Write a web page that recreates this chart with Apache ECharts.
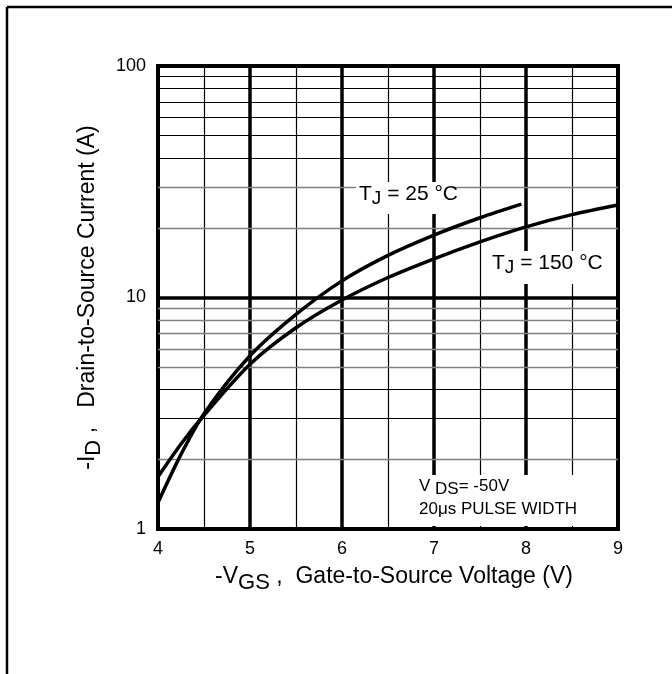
<!DOCTYPE html>
<html>
<head>
<meta charset="utf-8">
<script src="https://cdn.jsdelivr.net/npm/echarts@6/dist/echarts.min.js"></script>
<style>
  html, body { margin: 0; padding: 0; background: #fff; }
  #chart { width: 672px; height: 674px; }
</style>
</head>
<body>
<div id="chart"></div>
<script>
// -VGS (V) and -ID (A)
const vgs25 = [4, 4.25, 4.5, 5, 5.5, 6, 6.5, 7, 7.5, 7.95]
const id25 = [1.3, 2.1, 3.15, 5.6, 8.45, 11.8, 15.2, 18.6, 22.1, 25.3]
const vgs150 = [4, 4.25, 4.5, 5, 5.5, 6, 6.5, 7, 7.5, 8, 8.5, 9]
const id150 = [1.68, 2.33, 3.1, 5.15, 7.4, 9.75, 12.2, 14.7, 17.4, 20.2, 22.8, 25.1]

// minor log grid lines; some print gray in the original
const minorGridBlack = [3, 4, 40, 50, 60, 70, 80, 90]
const minorGridGray = [2, 5, 6, 7, 8, 9, 20, 30]

const font = 'Liberation Sans, Arial, sans-serif'

const chart = echarts.init(document.getElementById('chart'))

const toPairs = (xs, ys) => xs.map((x, i) => [x, ys[i]])

const gridLines = [
  ...minorGridBlack.map(v => ({ yAxis: v, lineStyle: { color: '#000', width: 1.2, type: 'solid' } })),
  ...minorGridGray.map(v => ({ yAxis: v, lineStyle: { color: '#808080', width: 1.4, type: 'solid' } }))
]

const titleRich = {
  n: { fontSize: 23, color: '#000', fontFamily: font, lineHeight: 34 },
  s: { fontSize: 22, color: '#000', fontFamily: font, lineHeight: 14, verticalAlign: 'bottom' }
}

const tjRich = {
  n: { fontSize: 21, fill: '#000', fontFamily: font, lineHeight: 28 },
  s: { fontSize: 19, fill: '#000', fontFamily: font, lineHeight: 14, verticalAlign: 'bottom' }
}

const option = {
  animation: false,
  textStyle: { fontFamily: font },
  grid: {
    left: 158, right: 54, top: 66, bottom: 145,
    show: true, borderColor: '#000', borderWidth: 4, backgroundColor: 'transparent'
  },
  xAxis: {
    type: 'value',
    min: 4, max: 9, interval: 1,
    name: '{n|-V}{s|GS}{n| ,  Gate-to-Source Voltage (V)}',
    nameLocation: 'middle',
    nameGap: 31,
    nameTextStyle: { rich: titleRich, padding: [0, 0, 0, 12] },
    axisLine: { show: false },
    axisTick: { show: false },
    axisLabel: { color: '#000', fontSize: 18, margin: 11 },
    splitLine: { show: true, lineStyle: { color: '#000', width: 3.5 } },
    minorTick: { show: false, splitNumber: 2 },
    minorSplitLine: { show: true, lineStyle: { color: '#000', width: 1.2 } }
  },
  yAxis: {
    type: 'log',
    logBase: 10,
    min: 1, max: 100,
    name: '{n|-I}{s|D}{n| ,   Drain-to-Source Current (A)}',
    nameLocation: 'middle',
    nameRotate: 90,
    nameGap: 39,
    nameTextStyle: { rich: titleRich },
    axisLine: { show: false },
    axisTick: { show: false },
    axisLabel: { color: '#000', fontSize: 18, margin: 12, formatter: v => String(Math.round(v)) },
    splitLine: { show: true, lineStyle: { color: '#000', width: 3.5 } }
  },
  series: [
    {
      name: 'grid',
      type: 'line',
      data: [],
      z: 1,
      silent: true,
      markLine: {
        silent: true,
        symbol: 'none',
        label: { show: false },
        data: gridLines
      }
    },
    {
      name: 'TJ = 25°C',
      type: 'line',
      smooth: 0.3,
      showSymbol: false,
      z: 5,
      lineStyle: { color: '#000', width: 3.5 },
      data: toPairs(vgs25, id25)
    },
    {
      name: 'TJ = 150°C',
      type: 'line',
      smooth: 0.3,
      showSymbol: false,
      z: 5,
      lineStyle: { color: '#000', width: 3.5 },
      data: toPairs(vgs150, id150)
    }
  ],
  graphic: [
    // page frame (top and left edges only)
    { type: 'line', z: 100, shape: { x1: 7, y1: 7, x2: 672, y2: 7 }, style: { stroke: '#000', lineWidth: 2.5 } },
    { type: 'line', z: 100, shape: { x1: 7, y1: 7, x2: 7, y2: 674 }, style: { stroke: '#000', lineWidth: 2.5 } },
    // label masks
    { type: 'rect', z: 100, shape: { x: 356, y: 182, width: 99, height: 32 }, style: { fill: '#fff' } },
    { type: 'rect', z: 100, shape: { x: 489, y: 251, width: 111, height: 33 }, style: { fill: '#fff' } },
    { type: 'rect', z: 100, shape: { x: 412, y: 475, width: 203, height: 51 }, style: { fill: '#fff' } },
    {
      type: 'text', z: 101, left: 359, top: 184,
      style: { text: '{n|T}{s|J}{n| = 25 °C}', rich: tjRich }
    },
    {
      type: 'text', z: 101, left: 492, top: 253,
      style: { text: '{n|T}{s|J}{n| = 150 °C}', rich: tjRich }
    },
    {
      type: 'text', z: 101, left: 419, top: 478,
      style: {
        text: '{n|V }{s|DS}{n|= -50V}\n{n|20μs PULSE WIDTH}',
        rich: {
          n: { fontSize: 17, fill: '#000', fontFamily: font, lineHeight: 23 },
          s: { fontSize: 17, fill: '#000', fontFamily: font, lineHeight: 15, verticalAlign: 'bottom' }
        }
      }
    }
  ]
}

chart.setOption(option)
</script>
</body>
</html>
